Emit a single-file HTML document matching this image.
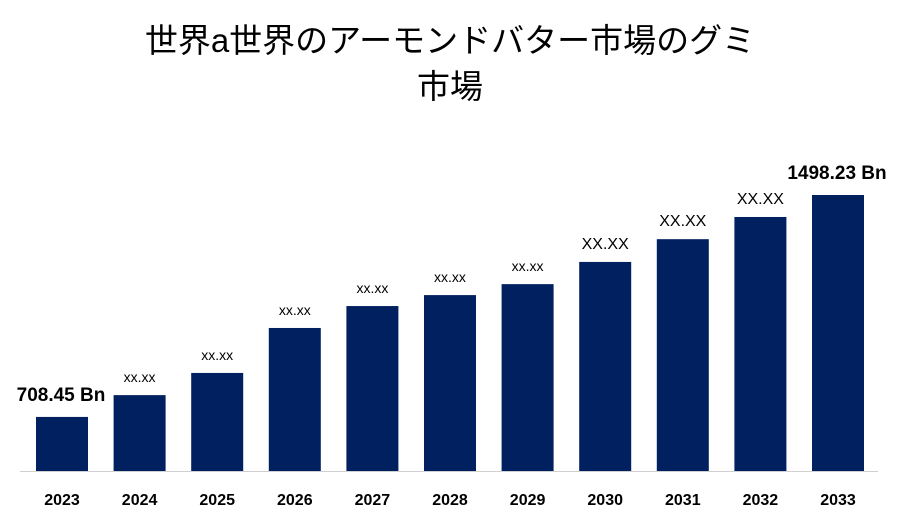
<!DOCTYPE html>
<html><head><meta charset="utf-8"><style>
body{margin:0;background:#fff;}
#wrap{position:relative;width:900px;height:525px;overflow:hidden;font-family:"Liberation Sans","Noto Sans CJK JP",sans-serif;}
#title{position:absolute;left:0;top:18px;width:900px;text-align:center;font-size:33px;line-height:46px;color:#000;font-family:"Liberation Sans","Noto Sans CJK JP",sans-serif;}
</style></head><body>
<div id="wrap">
<div id="title">世界a世界のアーモンドバター市場のグミ<br>市場</div>
<svg id="chart" width="900" height="525" style="position:absolute;left:0;top:0"></svg>
</div>
<script>
const categories=["2023","2024","2025","2026","2027","2028","2029","2030","2031","2032","2033"];
const values=[708.45,786,865,1025,1103,1142,1181,1260,1341,1420,1498.23];
const valueLabels=["708.45 Bn","xx.xx","xx.xx","xx.xx","xx.xx","xx.xx","xx.xx","XX.XX","XX.XX","XX.XX","1498.23 Bn"];
const yMin=516, yMax=1498.23;
const svg=document.getElementById('chart');
const NS='http://www.w3.org/2000/svg';
const baseY=471, topY=195;
function y(v){return baseY-(v-yMin)/(yMax-yMin)*(baseY-topY);}
function xCenter(i){return 62+i*77.6;}
const bw=52;
const axis=document.createElementNS(NS,'line');


axis.setAttribute('x1',20);axis.setAttribute('x2',878);axis.setAttribute('y1',baseY+0.5);axis.setAttribute('y2',baseY+0.5);
axis.setAttribute('stroke','#d0d0d0');axis.setAttribute('stroke-width','1');
svg.appendChild(axis);
categories.forEach((c,i)=>{
  const cx=xCenter(i), top=y(values[i]);
  const r=document.createElementNS(NS,'rect');
  
  
  r.setAttribute('x',cx-bw/2);r.setAttribute('y',top);r.setAttribute('width',bw);r.setAttribute('height',baseY-top);
  r.setAttribute('fill','#00205f');
  svg.appendChild(r);
  const t=document.createElementNS(NS,'text');
  
  
  t.setAttribute('x',cx);t.setAttribute('y',505);t.setAttribute('text-anchor','middle');
  t.setAttribute('font-size','16');t.setAttribute('font-weight','bold');t.setAttribute('fill','#000');
  t.textContent=c;svg.appendChild(t);
  const l=document.createElementNS(NS,'text');
  
  
  const lab=valueLabels[i];
  const big=lab.indexOf('Bn')>=0, caps=lab==='XX.XX';
  l.setAttribute('x',(i===0)?61:(i===categories.length-1?837:cx));
  l.setAttribute('y',top-(big?16:13));
  l.setAttribute('text-anchor','middle');
  l.setAttribute('font-size',big?'19':(caps?'16':'14'));
  if(big)l.setAttribute('font-weight','bold');
  l.setAttribute('fill','#000');
  l.textContent=lab;svg.appendChild(l);
});
</script>
</body></html>
